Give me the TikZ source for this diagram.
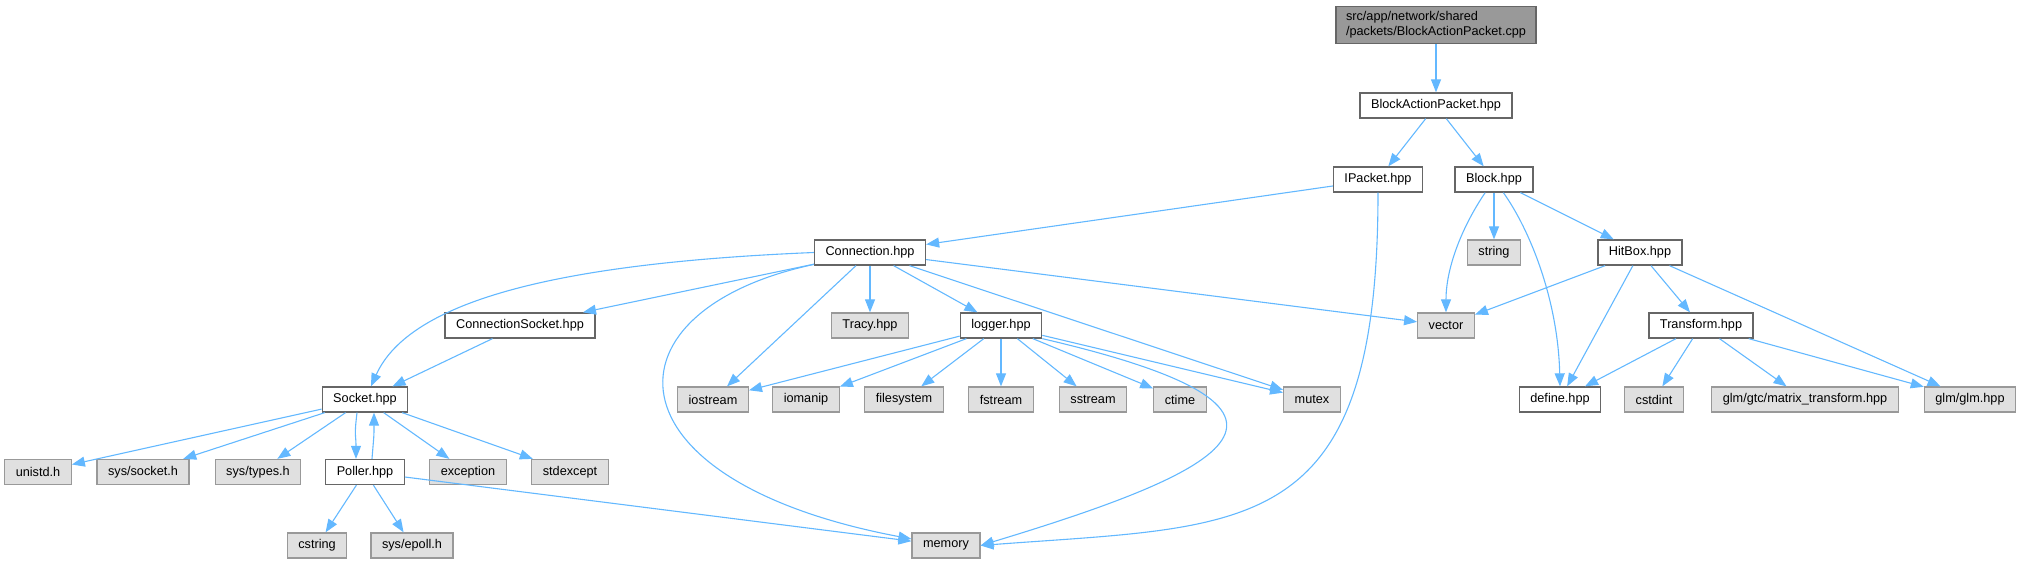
\documentclass[tikz,border=0pt]{standalone}
\usepackage{fontspec}
\setmainfont{Liberation Sans}
\usepackage{xcolor}
\usepackage{tikz}
\usetikzlibrary{arrows.meta}

\definecolor{edgeblue}{HTML}{63B8FF}
\definecolor{boxgray}{HTML}{E0E0E0}
\definecolor{rimgray}{HTML}{999999}
\definecolor{rimdark}{HTML}{666666}

\begin{document}
\begin{tikzpicture}[
    x=1pt, y=-1pt,
    font=\fontsize{12.7}{15}\selectfont,
    box/.style={draw=rimdark, line width=1.3pt, fill=white, minimum height=25pt,
                inner xsep=11pt, inner ysep=2pt},
    sysbox/.style={box, draw=rimgray, fill=boxgray},
    rootbox/.style={box, fill=rimgray, align=left, inner xsep=10pt, inner ysep=5pt},
    arr/.style={draw=edgeblue, line width=1.1pt, -{Triangle[length=13pt,width=10pt]}},
]
\useasboundingbox (0,0) rectangle (2022,564);

% Source file and its headers
\node[rootbox] (root)       at (1436,25)    {src/app/network/shared\\/packets/BlockActionPacket.cpp};
\node[box]     (bap)        at (1436,105.5) {BlockActionPacket.hpp};
\node[box]     (ipacket)    at (1378,179.5) {IPacket.hpp};
\node[box]     (block)      at (1494,179.5) {Block.hpp};
\node[box]     (connection) at (870,252.5)  {Connection.hpp};
\node[sysbox]  (stringh)    at (1494,252.5) {string};
\node[box]     (hitbox)     at (1640,252.5) {HitBox.hpp};
\node[box]     (connsocket) at (520,325.5)  {ConnectionSocket.hpp};
\node[sysbox]  (tracy)      at (870,325.5)  {Tracy.hpp};
\node[box]     (logger)     at (1001,325.5) {logger.hpp};
\node[sysbox]  (vectorh)    at (1446,325.5) {vector};
\node[box]     (transform)  at (1701,325.5) {Transform.hpp};

% Fifth row
\node[box]     (socket)     at (365,399.5)  {Socket.hpp};
\node[sysbox]  (iostream)   at (713,399.5)  {iostream};
\node[sysbox]  (iomanip)    at (806,399.5)  {iomanip};
\node[sysbox]  (filesystem) at (904,399.5)  {filesystem};
\node[sysbox]  (fstream)    at (1001,399.5) {fstream};
\node[sysbox]  (sstream)    at (1093,399.5) {sstream};
\node[sysbox]  (ctime)      at (1180,399.5) {ctime};
\node[sysbox]  (mutex)      at (1312,399.5) {mutex};
\node[box]     (define)     at (1560,399.5) {define.hpp};
\node[sysbox]  (cstdint)    at (1654,399.5) {cstdint};
\node[sysbox]  (glmgtc)     at (1805,399.5) {glm/gtc/matrix\_transform.hpp};
\node[sysbox]  (glm)        at (1970,399.5) {glm/glm.hpp};

% Socket level
\node[sysbox]  (unistd)     at (38,472)     {unistd.h};
\node[sysbox]  (syssocket)  at (143,472)    {sys/socket.h};
\node[sysbox]  (systypes)   at (258,472)    {sys/types.h};
\node[box]     (poller)     at (365,472)    {Poller.hpp};
\node[sysbox]  (exception)  at (468,472)    {exception};
\node[sysbox]  (stdexcept)  at (570,472)    {stdexcept};
\node[sysbox]  (cstring)    at (317,545.5)  {cstring};
\node[sysbox]  (sysepoll)   at (412,545.5)  {sys/epoll.h};
\node[sysbox]  (memory)     at (946,545.5)  {memory};

% Includes
\draw[arr] (root) -- (bap);
\draw[arr] (bap) -- (ipacket);
\draw[arr] (bap) -- (block);
\draw[arr] (ipacket) -- (connection);
\draw[arr] (ipacket.south) .. controls (1378,540) and (1250,525) .. (memory.east);
\draw[arr] (block) .. controls (1460,230) and (1446,270) .. (vectorh.north);
\draw[arr] (block) -- (stringh);
\draw[arr] (block) .. controls (1530,230) and (1558,300) .. (define.north);
\draw[arr] (block) -- (hitbox);
\draw[arr] (hitbox) -- (vectorh);
\draw[arr] (hitbox) -- (define);
\draw[arr] (hitbox) -- (transform);
\draw[arr] (hitbox) -- (glm);
\draw[arr] (transform) -- (define);
\draw[arr] (transform) -- (cstdint);
\draw[arr] (transform) -- (glmgtc);
\draw[arr] (transform) -- (glm);

% Connection.hpp
\draw[arr] (connection.west) .. controls (560,263) and (410,300) .. (socket);
\draw[arr] (connection) -- (connsocket);
\draw[arr] (connection) .. controls (600,310) and (600,480) .. (memory);
\draw[arr] (connection) -- (iostream);
\draw[arr] (connection) -- (tracy);
\draw[arr] (connection) -- (logger);
\draw[arr] (connection) -- (mutex);
\draw[arr] (connection) -- (vectorh);
\draw[arr] (connsocket) -- (socket);

% logger.hpp
\draw[arr] (logger) -- (iostream);
\draw[arr] (logger) -- (iomanip);
\draw[arr] (logger) -- (filesystem);
\draw[arr] (logger) -- (fstream);
\draw[arr] (logger) -- (sstream);
\draw[arr] (logger) -- (ctime);
\draw[arr] (logger) -- (mutex);
\draw[arr] (logger.south east) .. controls (1350,410) and (1230,470) .. (memory.east);

% Socket.hpp and Poller.hpp
\draw[arr] (socket) -- (unistd);
\draw[arr] (socket) -- (syssocket);
\draw[arr] (socket) -- (systypes);
\draw[arr] ([xshift=-8pt]socket.south) .. controls +(-3,25) and +(0,-25) .. ([xshift=-9pt]poller.north);
\draw[arr] ([xshift=7pt]poller.north) .. controls +(2,-25) and +(0,25) .. ([xshift=9pt]socket.south);
\draw[arr] (socket) -- (exception);
\draw[arr] (socket) -- (stdexcept);
\draw[arr] (poller) -- (cstring);
\draw[arr] (poller) -- (sysepoll);
\draw[arr] (poller) -- (memory);

\end{tikzpicture}
\end{document}
